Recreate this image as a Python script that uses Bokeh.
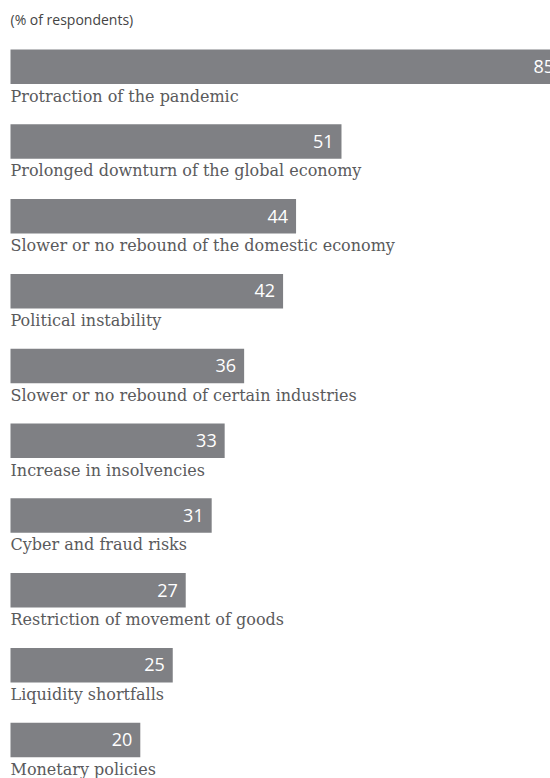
from bokeh.plotting import figure
from bokeh.models import Range1d, ColumnDataSource
from bokeh.core.properties import value
from bokeh.embed import file_html
from bokeh.resources import INLINE

categories = [
    "Protraction of the pandemic",
    "Prolonged downturn of the global economy",
    "Slower or no rebound of the domestic economy",
    "Political instability",
    "Slower or no rebound of certain industries",
    "Increase in insolvencies",
    "Cyber and fraud risks",
    "Restriction of movement of goods",
    "Liquidity shortfalls",
    "Monetary policies",
]
values = [85, 51, 44, 42, 36, 33, 31, 27, 25, 20]
subtitle = "(% of respondents)"

W, H = 550, 778
PX_PER_UNIT = 6.49
LEFT = 10
TOP0 = 49
PITCH = 74.8
BAR_H = 34.5

p = figure(width=W, height=H, output_backend="svg", toolbar_location=None,
           x_range=Range1d(-LEFT / PX_PER_UNIT, (W - LEFT) / PX_PER_UNIT),
           y_range=Range1d(H, 0), min_border=0)
p.axis.visible = False
p.grid.visible = False
p.outline_line_color = None
p.background_fill_color = "white"
p.border_fill_color = "white"

n = len(values)
tops = [TOP0 + i * PITCH for i in range(n)]
src = ColumnDataSource(dict(
    cat=categories, val=values,
    top=tops,
    bottom=[t + BAR_H for t in tops],
    num_y=[t + 17 for t in tops],
    lab_y=[t + BAR_H + 12 for t in tops],
    num_x=[v - 8 / PX_PER_UNIT for v in values],
    zero=[0] * n,
    num_txt=[str(v) for v in values],
))

p.quad(left="zero", right="val", top="top", bottom="bottom", source=src,
       fill_color="#7f8084", line_color=None)
p.text(x="num_x", y="num_y", text="num_txt", source=src,
       text_align="right", text_baseline="alphabetic",
       text_color="white", text_font=value("Open Sans"),
       text_font_size="18px")
p.text(x="zero", y="lab_y", text="cat", source=src,
       text_align="left", text_baseline="alphabetic",
       text_color="#5a5a5c", text_font=value("DejaVu Serif"),
       text_font_size="16px")
p.text(x=[0], y=[19], text=[subtitle], text_align="left",
       text_baseline="alphabetic", text_color="#444444",
       text_font=value("Open Sans"), text_font_size="14px")

open("out.html", "w").write(file_html(p, INLINE))
